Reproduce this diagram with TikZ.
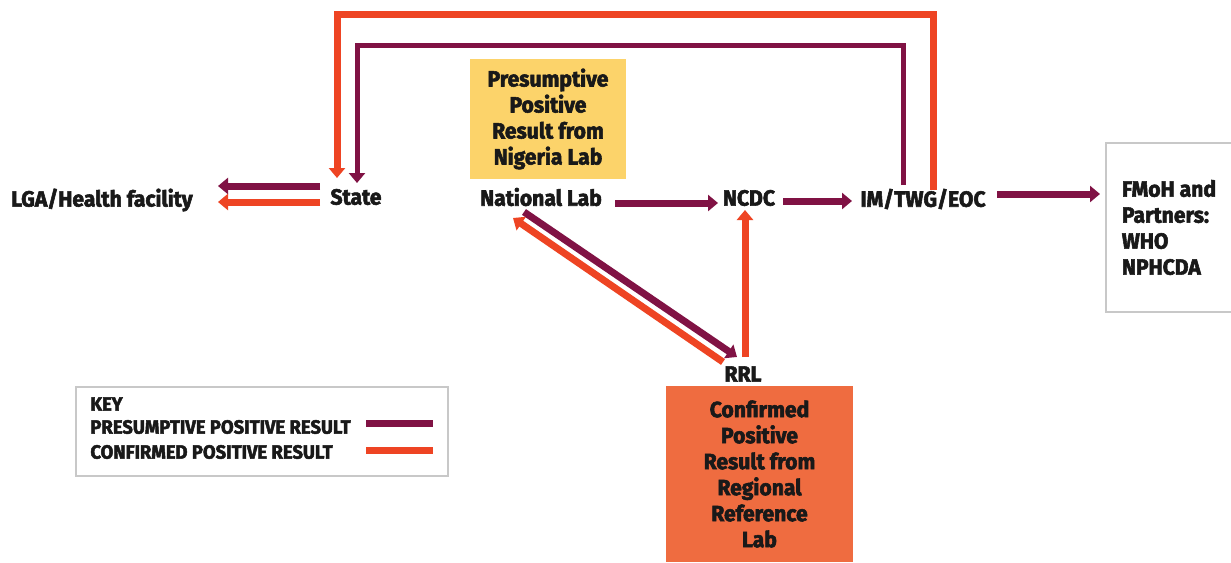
\documentclass[tikz,border=0pt]{standalone}
\usepackage{fontspec}
\setmainfont{Fira Sans}[FakeStretch=0.96,FakeBold=2.5]
\usetikzlibrary{arrows.meta}
\definecolor{presum}{RGB}{128,18,68}
\definecolor{confirm}{RGB}{238,68,35}
\definecolor{yellowbox}{RGB}{252,211,106}
\definecolor{orangebox}{RGB}{239,108,64}
\definecolor{keygrey}{RGB}{200,200,200}
\tikzset{
  lbl/.style={font=\bfseries\fontsize{11}{13}\selectfont, text=black!90, inner sep=0pt},
  boxtxt/.style={font=\bfseries\fontsize{11}{13}\selectfont, text=black!90, align=center, inner sep=0pt},
  presarrow/.style={draw=presum, line width=3.5pt, -{Triangle[length=5pt,width=8pt]}},
  confarrow/.style={draw=confirm, line width=3.5pt, -{Triangle[length=5pt,width=8pt]}},
  keytxt/.style={font=\bfseries\fontsize{9.6}{12}\selectfont, text=black!90, anchor=west, inner sep=0pt}
}
\begin{document}
\begin{tikzpicture}[x=0.5pt,y=-0.5pt]
% page, pixel units
\useasboundingbox (0,0) rectangle (1231,562);
\fill[white] (0,0) rectangle (1231,562);

% Marking the places
\node[lbl] (lga) at (102,200) {LGA/Health facility};
\node[lbl] (state) at (356,197) {State};
\node[lbl] (natlab) at (541,197) {National Lab};
\node[lbl] (ncdc) at (749,198) {NCDC};
\node[lbl] (imtwg) at (923,199) {IM/TWG/EOC};
\node[lbl] (rrl) at (743,374) {RRL};

% Boxes
\node[boxtxt, fill=yellowbox, minimum width=78pt, minimum height=60pt] (presbox) at (548,119)
  {Presumptive\\Positive\\Result from\\Nigeria Lab};
\node[boxtxt, fill=orangebox, minimum width=93.5pt, minimum height=88pt] (confbox) at (759.5,474)
  {Confirmed\\Positive\\Result from\\Regional\\Reference\\Lab};
\node[boxtxt, align=left, draw=keygrey, line width=1pt, fill=white, minimum width=63pt, minimum height=84.5pt] (fmoh) at (1169,227.5)
  {FMoH and\\Partners:\\WHO\\NPHCDA};

% Drawing arrows State to LGA
\draw[presarrow] ([shift={(-36,-11)}]state.center) -- ([shift={(116,-14)}]lga.center);
\draw[confarrow] ([shift={(-36,5)}]state.center) -- ([shift={(116,2)}]lga.center);

% Drawing arrows along the chain
\draw[presarrow] ([shift={(74,6)}]natlab.center) -- ([shift={(-31,5)}]ncdc.center);
\draw[presarrow] ([shift={(34,3)}]ncdc.center) -- ([shift={(-71,2)}]imtwg.center);
\draw[presarrow] ([shift={(74,-5)}]imtwg.center) -- ([shift={(-69,-33.5)}]fmoh.center);

% Drawing loops back to State
\draw[confarrow] ([shift={(10,-9)}]imtwg.center) |- ([shift={(-19,-183)}]state.center)
  -- ([shift={(-19,-19)}]state.center);
\draw[presarrow, line width=2.5pt] ([shift={(-20,-14)}]imtwg.center) |- ([shift={(1,-152)}]state.center)
  -- ([shift={(1,-14)}]state.center);

% Drawing arrows National Lab and RRL
\draw[presarrow] ([shift={(-17,15)}]natlab.center) -- ([shift={(-6,-17)}]rrl.center);
\draw[confarrow] ([shift={(-20,-12)}]rrl.center) -- ([shift={(-28,21)}]natlab.center);
\draw[confarrow] ([shift={(2,-17)}]rrl.center) -- ([shift={(-4,12)}]ncdc.center);

% Drawing key
\node[draw=keygrey, line width=1pt, minimum width=186pt, minimum height=44.5pt, inner sep=0pt] (key) at (262,431.5) {};
\node[keytxt] (keyhead) at (90,404) {KEY};
\node[keytxt] (keypres) at (90,427) {PRESUMPTIVE POSITIVE RESULT};
\node[keytxt] (keyconf) at (90,452) {CONFIRMED POSITIVE RESULT};
\draw[presum, line width=3.5pt] ([shift={(104,-8.5)}]key.center) -- ([shift={(171,-8.5)}]key.center);
\draw[confirm, line width=3.5pt] ([shift={(104,18.5)}]key.center) -- ([shift={(171,18.5)}]key.center);
\end{tikzpicture}
\end{document}
